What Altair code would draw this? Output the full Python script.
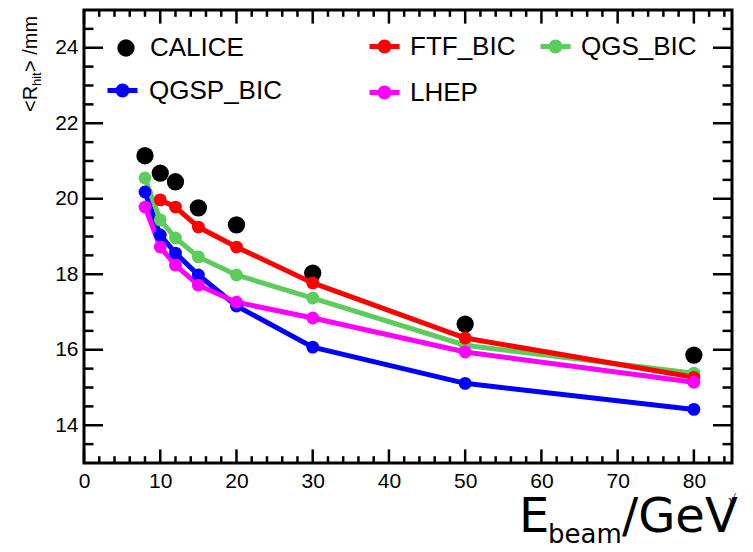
import altair as alt
import pandas as pd

# ---------------- data ----------------
E_all = [8, 10, 12, 15, 20, 30, 50, 80]
E_ftf = [10, 12, 15, 20, 30, 50, 80]
calice = [21.14, 20.68, 20.45, 19.76, 19.31, 18.03, 16.68, 15.86]
ftf_bic = [19.97, 19.78, 19.25, 18.72, 17.77, 16.31, 15.27]
qgs_bic = [20.55, 19.44, 18.96, 18.46, 17.98, 17.37, 16.12, 15.38]
qgsp_bic = [20.18, 19.04, 18.56, 17.98, 17.16, 16.07, 15.11, 14.42]
lhep = [19.78, 18.72, 18.24, 17.71, 17.26, 16.84, 15.94, 15.14]

series_names = ["CALICE", "FTF_BIC", "QGS_BIC", "QGSP_BIC", "LHEP"]
series_colors = ["#000000", "#ff0000", "#5ccc5c", "#0000ff", "#ff00ff"]

x_label_values = [0, 10, 20, 30, 40, 50, 60, 70, 80]
y_label_values = [14, 16, 18, 20, 22, 24]
x_minor_values = [2, 4, 6, 8, 12, 14, 16, 18, 22, 24, 26, 28, 32, 34, 36, 38,
                  42, 44, 46, 48, 52, 54, 56, 58, 62, 64, 66, 68, 72, 74, 76, 78, 82, 84]
y_minor_values = [13.5, 14.5, 15, 15.5, 16.5, 17, 17.5, 18.5, 19, 19.5,
                  20.5, 21, 21.5, 22.5, 23, 23.5, 24.5]

series_data = {
    "CALICE": (E_all, calice),
    "FTF_BIC": (E_ftf, ftf_bic),
    "QGS_BIC": (E_all, qgs_bic),
    "QGSP_BIC": (E_all, qgsp_bic),
    "LHEP": (E_all, lhep),
}

# stroke-legend entries, column by column: col1 FTF_BIC / LHEP, col2 QGS_BIC
stroke_order = ["FTF_BIC", "LHEP", "QGS_BIC"]


def frame(name):
    es, vals = series_data[name]
    key = f"{stroke_order.index(name)} {name}" if name in stroke_order else name
    return pd.DataFrame({"series": [name] * len(es), "skey": [key] * len(es), "E": es, "R": vals})


# ---------------- styling ----------------
W, H = 648, 453
FONT = "Liberation Sans"
color_of = dict(zip(series_names, series_colors))

xs = alt.Scale(domain=[0, 85], nice=False, zero=False)
ys = alt.Scale(domain=[13, 25], nice=False, zero=False)
xaxis = alt.Axis(values=x_label_values, title=None, domain=False, ticks=False, grid=False,
                 labelFont=FONT, labelFontSize=21, labelPadding=7, labelColor="black",
                 labelFlush=False)
yaxis = alt.Axis(values=y_label_values, title=None, domain=False, ticks=False, grid=False,
                 labelFont=FONT, labelFontSize=21, labelPadding=6, labelColor="black",
                 labelFlush=False)

X = alt.X("E:Q", scale=xs, axis=xaxis)
Y = alt.Y("R:Q", scale=ys, axis=yaxis)

LINE_DOT = ("M-1,0L1,0"
            "M0.3,0A0.3,0.3,0,1,1,-0.3,0A0.3,0.3,0,1,1,0.3,0"
            "M0.1,0A0.1,0.1,0,1,1,-0.1,0A0.1,0.1,0,1,1,0.1,0")

fill_legend = alt.Legend(values=["CALICE"], orient="none", legendX=29, legendY=25, title=None,
                         symbolType="circle", symbolSize=300, labelFont=FONT, labelFontSize=26,
                         labelOffset=11, labelColor="black")
fill_enc = alt.Fill("series:N", scale=alt.Scale(domain=series_names, range=series_colors),
                    legend=fill_legend)

stroke_keys = [f"{i} {n}" for i, n in enumerate(stroke_order)]
stroke_legend = alt.Legend(columns=2, orient="none", legendX=283, legendY=19,
                           title=None, symbolType=LINE_DOT, symbolSize=900, symbolStrokeWidth=5,
                           labelFont=FONT, labelFontSize=26, labelOffset=8, labelColor="black",
                           labelExpr="substring(datum.label, 2)",
                           columnPadding=14, rowPadding=14)
stroke_enc = alt.Stroke("skey:N",
                        scale=alt.Scale(domain=stroke_keys, range=[color_of[n] for n in stroke_order]),
                        legend=stroke_legend)

qgsp_legend = alt.Legend(values=["QGSP_BIC"], orient="none", legendX=21, legendY=63, title=None,
                         symbolType=LINE_DOT, symbolSize=900, symbolStrokeWidth=5,
                         labelFont=FONT, labelFontSize=26, labelOffset=9, labelColor="black")
color_enc = alt.Color("series:N", scale=alt.Scale(domain=["QGSP_BIC"], range=[color_of["QGSP_BIC"]]),
                      legend=qgsp_legend)

layers = []


def xticks(values, length):
    d = pd.DataFrame({"E": values})
    bottom = alt.Chart(d).mark_rule(color="black", strokeWidth=2.5).encode(
        x=X, y=alt.value(H), y2=alt.value(H - length))
    top = alt.Chart(d).mark_rule(color="black", strokeWidth=2.5).encode(
        x=X, y=alt.value(0), y2=alt.value(length))
    return [bottom, top]


def yticks(values, length):
    d = pd.DataFrame({"R": values})
    left = alt.Chart(d).mark_rule(color="black", strokeWidth=2.5).encode(
        y=Y, x=alt.value(0), x2=alt.value(length))
    right = alt.Chart(d).mark_rule(color="black", strokeWidth=2.5).encode(
        y=Y, x=alt.value(W), x2=alt.value(W - length))
    return [left, right]


layers += xticks(x_label_values, 13.6) + xticks(x_minor_values, 6.8)
layers += yticks(y_label_values, 19) + yticks(y_minor_values, 9.5)

# data points for CALICE
layers.append(alt.Chart(frame("CALICE")).mark_point(filled=True, size=300, opacity=1).encode(
    x=X, y=Y, fill=fill_enc))

# model lines
for name in ["QGSP_BIC", "QGS_BIC", "FTF_BIC", "LHEP"]:
    base = alt.Chart(frame(name)).mark_line(strokeWidth=5)
    if name == "QGSP_BIC":
        layers.append(base.encode(x=X, y=Y, color=color_enc))
    else:
        layers.append(base.encode(x=X, y=Y, stroke=stroke_enc))

# model points
for name in ["QGSP_BIC", "QGS_BIC", "FTF_BIC", "LHEP"]:
    layers.append(alt.Chart(frame(name)).mark_point(filled=True, size=165, opacity=1).encode(
        x=X, y=Y, fill=fill_enc))


def txt(t, x, y, size, angle=0, font=FONT, align="left", baseline="alphabetic"):
    kw = dict(align=align, baseline=baseline, font=font, fontSize=size, color="black")
    if angle:
        kw["angle"] = angle
    return alt.Chart(pd.DataFrame({"t": [t]})).mark_text(**kw).encode(
        x=alt.value(x), y=alt.value(y), text="t:N")


layers += [
    txt("<R", -47, 102, 20, angle=270),
    txt("hit", -43, 76, 13, angle=270),
    txt("> /mm", -47, 62, 20, angle=270),
    txt("E", 435, 522, 48, font="DejaVu Sans"),
    txt("beam", 464, 533, 26, font="DejaVu Sans"),
    txt("/GeV", 538, 522, 48, font="DejaVu Sans"),
    txt("\u221a", 644, 494, 13, font="DejaVu Sans"),
]

chart = alt.layer(*layers).properties(
    width=W, height=H,
    autosize=alt.AutoSizeParams(type="none"),
    padding={"left": 76, "top": 2, "right": 13, "bottom": 81},
    background="white",
).configure_view(stroke="black", strokeWidth=3)

chart.save("out.html", embed_options={"renderer": "svg", "actions": False})
